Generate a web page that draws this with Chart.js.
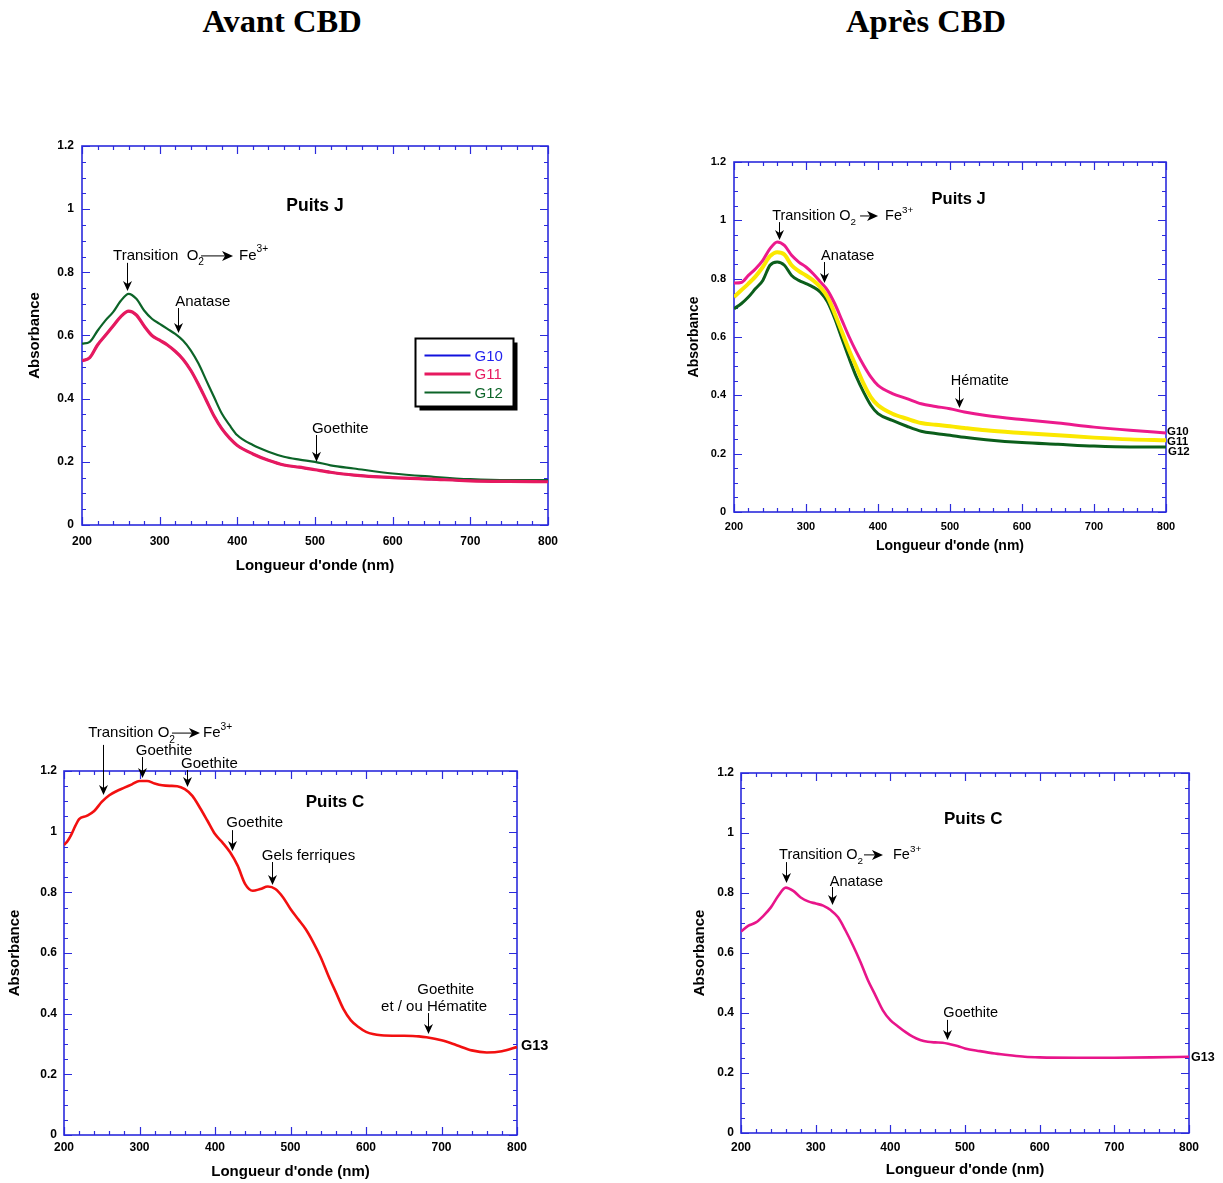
<!DOCTYPE html>
<html><head><meta charset="utf-8">
<script src="https://cdn.jsdelivr.net/npm/chart.js@4.4.0/dist/chart.umd.min.js"></script>
<style>
html,body{margin:0;padding:0;background:#fff}
body{width:1223px;height:1183px;position:relative;overflow:hidden}
.t{position:absolute;top:0;font:bold 32.5px "Liberation Serif","Times New Roman",serif;transform:translateX(-50%);line-height:42px;white-space:nowrap;color:#000}
canvas{position:absolute}
</style></head><body>
<div class="t" style="left:282px">Avant CBD</div>
<div class="t" style="left:926px">Après CBD</div>
<canvas id="c1" width="600" height="460" style="left:0;top:130px"></canvas>
<canvas id="c2" width="560" height="420" style="left:660px;top:140px"></canvas>
<canvas id="c3" width="560" height="468" style="left:0;top:715px"></canvas>
<canvas id="c4" width="563" height="443" style="left:660px;top:740px"></canvas>
<script>
// ---------- DATA ----------
const xTicks = [200, 300, 400, 500, 600, 700, 800];
const yTicks = [0, 0.2, 0.4, 0.6, 0.8, 1, 1.2];

// Puits J (wavelengths, nm)
const wlJ = [200,210,220,230,240,250,260,270,280,290,300,310,320,330,340,350,360,370,380,390,400,420,440,460,480,500,520,550,600,650,700,750,800];
// Avant CBD - Puits J
const avantJ_G10 = [0.52,0.53,0.57,0.60,0.63,0.66,0.677,0.665,0.63,0.60,0.585,0.57,0.55,0.525,0.49,0.445,0.395,0.345,0.305,0.275,0.252,0.225,0.205,0.19,0.183,0.175,0.167,0.158,0.15,0.145,0.14,0.138,0.137];
const avantJ_G11 = [0.52,0.53,0.57,0.60,0.63,0.66,0.677,0.665,0.63,0.60,0.585,0.57,0.55,0.525,0.49,0.445,0.395,0.345,0.305,0.275,0.252,0.225,0.205,0.19,0.183,0.175,0.167,0.158,0.15,0.145,0.14,0.138,0.137];
const avantJ_G12 = [0.574,0.58,0.615,0.647,0.674,0.71,0.732,0.716,0.679,0.653,0.637,0.621,0.605,0.584,0.553,0.511,0.458,0.405,0.353,0.316,0.284,0.253,0.232,0.216,0.207,0.2,0.189,0.179,0.163,0.153,0.145,0.142,0.142];
// Après CBD - Puits J
const apresJ_G10 = [0.785,0.787,0.811,0.834,0.863,0.903,0.926,0.914,0.88,0.857,0.84,0.817,0.789,0.76,0.714,0.657,0.60,0.549,0.503,0.463,0.434,0.406,0.389,0.371,0.362,0.354,0.343,0.331,0.317,0.305,0.291,0.28,0.271];
const apresJ_G11 = [0.737,0.76,0.783,0.808,0.84,0.877,0.891,0.883,0.846,0.826,0.811,0.794,0.771,0.737,0.68,0.617,0.554,0.497,0.44,0.394,0.366,0.337,0.32,0.305,0.299,0.294,0.288,0.28,0.271,0.263,0.255,0.249,0.246];
const apresJ_G12 = [0.697,0.714,0.737,0.766,0.794,0.846,0.857,0.846,0.811,0.794,0.783,0.771,0.754,0.72,0.663,0.594,0.526,0.463,0.411,0.366,0.337,0.314,0.294,0.277,0.269,0.263,0.256,0.248,0.238,0.232,0.226,0.223,0.223];

// Avant CBD - Puits C
const wlC_avant = [200,205,210,215,220,230,240,250,260,270,280,290,300,310,320,330,340,350,360,370,380,390,400,410,420,430,440,450,460,470,480,490,500,510,520,530,540,550,560,570,580,590,600,620,650,670,680,700,720,740,760,780,800];
const avantC_G13 = [0.956,0.97,0.992,1.019,1.041,1.052,1.068,1.098,1.12,1.134,1.145,1.156,1.167,1.167,1.159,1.153,1.151,1.15,1.14,1.118,1.079,1.036,0.992,0.964,0.932,0.888,0.827,0.805,0.811,0.819,0.811,0.784,0.745,0.712,0.679,0.636,0.586,0.526,0.471,0.416,0.378,0.356,0.34,0.329,0.327,0.325,0.322,0.312,0.296,0.279,0.272,0.276,0.29];
// Après CBD - Puits C
const wlC_apres = [200,210,220,230,240,250,260,270,280,290,300,310,320,330,340,350,360,370,380,390,400,410,420,430,440,450,460,470,480,490,500,520,540,560,580,600,650,700,750,800];
const apresC_G13 = [0.672,0.691,0.702,0.724,0.752,0.791,0.818,0.807,0.785,0.772,0.765,0.758,0.743,0.719,0.675,0.625,0.57,0.509,0.459,0.409,0.376,0.356,0.337,0.321,0.31,0.304,0.302,0.301,0.296,0.29,0.282,0.273,0.265,0.259,0.254,0.252,0.251,0.251,0.252,0.254];

// ---------- STYLE ----------
const FONT = '"Liberation Sans", Arial, sans-serif';
const FRAME = '#2b2bdc';

function pts(xs, ys){ return xs.map((x,i)=>({x, y: ys[i]})); }

const framePlugin = {
  id: 'frame',
  beforeDatasetsDraw(chart){
    const {ctx, chartArea:a, scales:{x, y}} = chart;
    ctx.save();
    ctx.strokeStyle = FRAME;
    ctx.lineWidth = 1.2;
    ctx.beginPath();
    for (let v = 200; v <= 800; v += 20){
      const px = Math.round(x.getPixelForValue(v)) + 0.5;
      const L = (v % 100 === 0) ? 8 : 4;
      ctx.moveTo(px, a.bottom); ctx.lineTo(px, a.bottom - L);
      ctx.moveTo(px, a.top); ctx.lineTo(px, a.top + L);
    }
    for (let i = 0; i <= 24; i++){
      const py = Math.round(y.getPixelForValue(i * 0.05)) + 0.5;
      const L = (i % 4 === 0) ? 8 : 4;
      ctx.moveTo(a.left, py); ctx.lineTo(a.left + L, py);
      ctx.moveTo(a.right, py); ctx.lineTo(a.right - L, py);
    }
    ctx.stroke();
    ctx.lineWidth = 1.6;
    ctx.strokeRect(a.left, a.top, a.right - a.left, a.bottom - a.top);
    ctx.restore();
  }
};

function downArrow(ctx, x, y1, y2){
  ctx.beginPath(); ctx.moveTo(x, y1); ctx.lineTo(x, y2 - 5); ctx.stroke();
  ctx.beginPath();
  ctx.moveTo(x, y2); ctx.lineTo(x - 4.5, y2 - 10); ctx.lineTo(x, y2 - 7); ctx.lineTo(x + 4.5, y2 - 10);
  ctx.closePath(); ctx.fill();
}
function rightArrow(ctx, x1, x2, y){
  ctx.beginPath(); ctx.moveTo(x1, y); ctx.lineTo(x2 - 5, y); ctx.stroke();
  ctx.beginPath();
  ctx.moveTo(x2, y); ctx.lineTo(x2 - 11, y - 5); ctx.lineTo(x2 - 8, y); ctx.lineTo(x2 - 11, y + 5);
  ctx.closePath(); ctx.fill();
}

const annotPlugin = {
  id: 'annot',
  afterDraw(chart, args, opts){
    const {ctx, chartArea:a, scales:{x, y}} = chart;
    ctx.save();
    ctx.fillStyle = '#000'; ctx.strokeStyle = '#000'; ctx.lineWidth = 1;
    ctx.textBaseline = 'middle';
    for (const it of (opts.items || [])){
      if (it.k === 'a'){
        downArrow(ctx, Math.round(x.getPixelForValue(it.x)) + 0.5, y.getPixelForValue(it.y1), y.getPixelForValue(it.y2));
      } else if (it.k === 't'){
        ctx.font = (it.bold ? 'bold ' : '') + it.size + 'px ' + FONT;
        ctx.textAlign = it.align || 'left';
        ctx.fillText(it.s, x.getPixelForValue(it.x), y.getPixelForValue(it.y));
      } else if (it.k === 'g'){
        ctx.font = 'bold ' + it.size + 'px ' + FONT;
        ctx.textAlign = 'left';
        ctx.fillText(it.s, a.right + it.dx, y.getPixelForValue(it.y));
      } else if (it.k === 'r'){
        let cx = x.getPixelForValue(it.x);
        const cy = y.getPixelForValue(it.y);
        ctx.textAlign = 'left';
        for (const p of it.parts){
          if (p.arrow){
            const x1 = cx + (p.pre || 0);
            rightArrow(ctx, x1, x1 + p.arrow, cy);
            cx = x1 + p.arrow + (p.post || 0);
            continue;
          }
          const small = p.sub || p.sup;
          const fs = small ? it.size * 0.68 : it.size;
          ctx.font = fs + 'px ' + FONT;
          const dy = p.sub ? it.size * 0.45 : (p.sup ? -it.size * 0.42 : 0);
          ctx.fillText(p.t, cx, cy + dy);
          cx += ctx.measureText(p.t).width;
        }
      }
    }
    if (opts.legend){
      const L = opts.legend;
      const lx = Math.round(x.getPixelForValue(L.x)) + 0.5, ly = Math.round(y.getPixelForValue(L.y)) + 0.5;
      ctx.fillStyle = '#000';
      ctx.fillRect(lx + 4, ly + 4, L.w, L.h);
      ctx.fillStyle = '#fff';
      ctx.fillRect(lx, ly, L.w, L.h);
      ctx.strokeStyle = '#000'; ctx.lineWidth = 2;
      ctx.strokeRect(lx, ly, L.w, L.h);
      ctx.font = '15px ' + FONT; ctx.textAlign = 'left';
      L.entries.forEach((e, i) => {
        const yy = ly + 17 + i * 18.5;
        ctx.strokeStyle = e.color; ctx.lineWidth = e.width;
        ctx.beginPath(); ctx.moveTo(lx + 9, yy); ctx.lineTo(lx + 55, yy); ctx.stroke();
        ctx.fillStyle = e.text; ctx.fillText(e.label, lx + 59, yy + 1);
      });
    }
    ctx.restore();
  }
};

function makeScales(o){
  return {
    x: {
      type: 'linear', min: 200, max: 800,
      grid: {display: false, drawTicks: false}, border: {display: false},
      afterBuildTicks(s){ s.ticks = xTicks.map(v => ({value: v})); },
      ticks: {font: {family: FONT, weight: 'bold', size: o.tick}, color: '#000', padding: o.xpad, maxRotation: 0, autoSkip: false},
      title: {display: true, text: "Longueur d'onde (nm)", color: '#000', font: {family: FONT, weight: 'bold', size: o.title}, padding: {top: 0, bottom: o.xtb}},
      afterFit(s){ s.height = o.xh; }
    },
    y: {
      type: 'linear', min: 0, max: 1.2,
      grid: {display: false, drawTicks: false}, border: {display: false},
      afterBuildTicks(s){ s.ticks = yTicks.map(v => ({value: v})); },
      ticks: {font: {family: FONT, weight: 'bold', size: o.tick}, color: '#000', padding: o.ypad,
              callback: v => String(Math.round(v * 10) / 10)},
      title: {display: true, text: 'Absorbance', color: '#000', font: {family: FONT, weight: 'bold', size: o.title}, padding: {top: o.ytp, bottom: 0}},
      afterFit(s){ s.width = o.yw; }
    }
  };
}

function ds(label, xs, ys, color, width, order){
  return {label, data: pts(xs, ys), borderColor: color, backgroundColor: color, borderWidth: width,
          pointRadius: 0, cubicInterpolationMode: 'monotone', fill: false, order};
}

function make(id, datasets, o, items, legend){
  new Chart(document.getElementById(id), {
    type: 'line',
    data: {datasets},
    options: {
      responsive: false, animation: false, devicePixelRatio: 1,
      layout: {padding: {left: 0, right: o.pr, top: o.pt, bottom: 0}},
      scales: makeScales(o),
      plugins: {legend: {display: false}, tooltip: {enabled: false}, annot: {items, legend}}
    },
    plugins: [framePlugin, annotPlugin]
  });
}

// ---- Chart 1: Avant CBD, Puits J ----
make('c1', [
  ds('G11', wlJ, avantJ_G11, '#e6195f', 3.2, 0),
  ds('G10', wlJ, avantJ_G10, '#1212dd', 2, 1),
  ds('G12', wlJ, avantJ_G12, '#0c6428', 2.2, 2)
], {tick: 12, title: 15, xpad: 9, ypad: 8, xtb: 15, ytp: 26, xh: 65, yw: 82, pr: 52, pt: 16}, [
  {k: 't', s: 'Puits J', x: 500, y: 1.01, size: 17.5, bold: true, align: 'center'},
  {k: 'r', x: 240, y: 0.852, size: 15, parts: [{t: 'Transition  O'}, {t: '2', sub: true}, {arrow: 32, pre: -3, post: 6}, {t: 'Fe'}, {t: '3+', sup: true}]},
  {k: 'a', x: 258, y1: 0.83, y2: 0.741},
  {k: 't', s: 'Anatase', x: 320, y: 0.706, size: 15},
  {k: 'a', x: 324, y1: 0.687, y2: 0.608},
  {k: 't', s: 'Goethite', x: 496, y: 0.304, size: 15},
  {k: 'a', x: 501, y1: 0.285, y2: 0.2}
], {x: 628.8, y: 0.592, w: 98, h: 68, entries: [
  {label: 'G10', color: '#1212dd', text: '#2222ee', width: 2},
  {label: 'G11', color: '#e6195f', text: '#e6195f', width: 3.2},
  {label: 'G12', color: '#0c6428', text: '#0c6428', width: 2}
]});

// ---- Chart 2: Après CBD, Puits J ----
make('c2', [
  ds('G10', wlJ, apresJ_G10, '#ec1a8c', 3, 0),
  ds('G11', wlJ, apresJ_G11, '#fbe800', 4, 1),
  ds('G12', wlJ, apresJ_G12, '#0b5e1b', 3, 2)
], {tick: 11, title: 14, xpad: 8, ypad: 8, xtb: 5, ytp: 26, xh: 48, yw: 74, pr: 54, pt: 22}, [
  {k: 't', s: 'Puits J', x: 512, y: 1.07, size: 16.5, bold: true, align: 'center'},
  {k: 'r', x: 253, y: 1.015, size: 14.5, parts: [{t: 'Transition O'}, {t: '2', sub: true}, {arrow: 18, pre: 4, post: 7}, {t: 'Fe'}, {t: '3+', sup: true}]},
  {k: 'a', x: 262, y1: 0.994, y2: 0.933},
  {k: 't', s: 'Anatase', x: 321, y: 0.878, size: 14.5},
  {k: 'a', x: 325, y1: 0.857, y2: 0.785},
  {k: 't', s: 'Hématite', x: 501, y: 0.449, size: 14.5},
  {k: 'a', x: 512, y1: 0.429, y2: 0.357},
  {k: 'g', s: 'G10', y: 0.276, size: 11.5, dx: 1},
  {k: 'g', s: 'G11', y: 0.241, size: 11.5, dx: 1},
  {k: 'g', s: 'G12', y: 0.207, size: 11.5, dx: 2}
]);

// ---- Chart 3: Avant CBD, Puits C ----
make('c3', [
  ds('G13', wlC_avant, avantC_G13, '#f21010', 2.6, 0)
], {tick: 12, title: 15, xpad: 5, ypad: 7, xtb: 2, ytp: 6, xh: 48, yw: 64, pr: 43, pt: 56}, [
  {k: 't', s: 'Puits C', x: 559, y: 1.098, size: 17, bold: true, align: 'center'},
  {k: 'r', x: 232, y: 1.325, size: 15, parts: [{t: 'Transition O'}, {t: '2', sub: true}, {arrow: 28, pre: -3, post: 3}, {t: 'Fe'}, {t: '3+', sup: true}]},
  {k: 'a', x: 252, y1: 1.286, y2: 1.121},
  {k: 't', s: 'Goethite', x: 295, y: 1.266, size: 15},
  {k: 'a', x: 303, y1: 1.246, y2: 1.177},
  {k: 't', s: 'Goethite', x: 355, y: 1.223, size: 15},
  {k: 'a', x: 363, y1: 1.203, y2: 1.147},
  {k: 't', s: 'Goethite', x: 415, y: 1.029, size: 15},
  {k: 'a', x: 422, y1: 1.005, y2: 0.936},
  {k: 't', s: 'Gels ferriques', x: 462, y: 0.92, size: 15},
  {k: 'a', x: 475, y1: 0.9, y2: 0.824},
  {k: 't', s: 'Goethite', x: 668, y: 0.478, size: 15},
  {k: 't', s: 'et / ou Hématite', x: 620, y: 0.422, size: 15},
  {k: 'a', x: 682, y1: 0.402, y2: 0.333},
  {k: 'g', s: 'G13', y: 0.293, size: 14.5, dx: 4}
]);

// ---- Chart 4: Après CBD, Puits C ----
make('c4', [
  ds('G13', wlC_apres, apresC_G13, '#e8158a', 2.6, 0)
], {tick: 12, title: 15, xpad: 7, ypad: 7, xtb: 4, ytp: 31, xh: 50, yw: 81, pr: 34, pt: 33}, [
  {k: 't', s: 'Puits C', x: 511, y: 1.047, size: 17, bold: true, align: 'center'},
  {k: 'r', x: 251, y: 0.927, size: 14.5, parts: [{t: 'Transition O'}, {t: '2', sub: true}, {arrow: 19, pre: 1, post: 10}, {t: 'Fe'}, {t: '3+', sup: true}]},
  {k: 'a', x: 260, y1: 0.903, y2: 0.833},
  {k: 't', s: 'Anatase', x: 319, y: 0.837, size: 14.5},
  {k: 'a', x: 322, y1: 0.82, y2: 0.76},
  {k: 't', s: 'Goethite', x: 471, y: 0.4, size: 14.5},
  {k: 'a', x: 476, y1: 0.377, y2: 0.31},
  {k: 'g', s: 'G13', y: 0.253, size: 12.5, dx: 2}
]);
</script>
</body></html>
